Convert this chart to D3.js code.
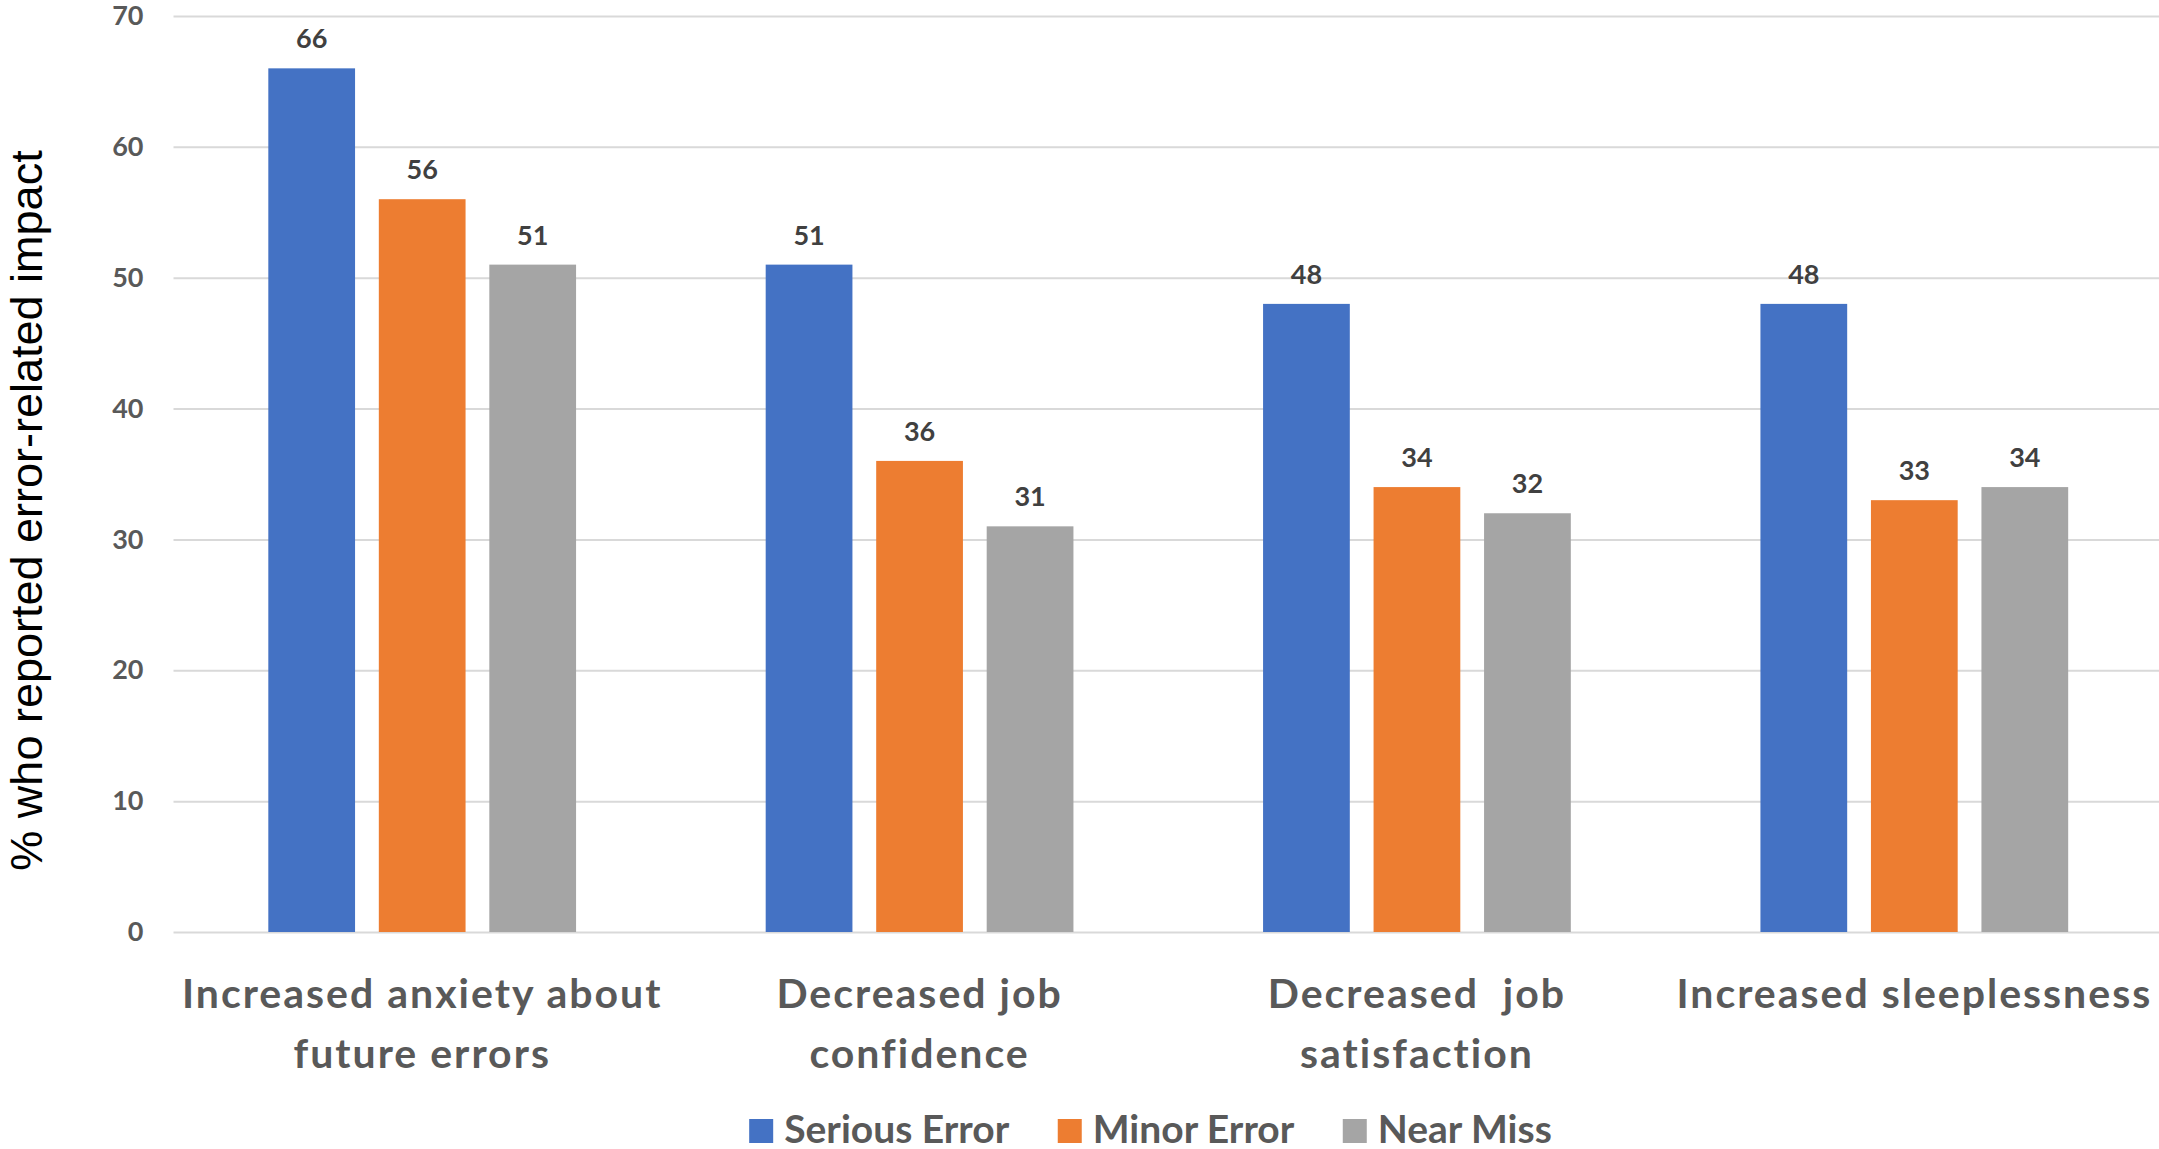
<!DOCTYPE html>
<html><head><meta charset="utf-8">
<script src="https://cdn.jsdelivr.net/npm/d3@7"></script>
<style>
html,body{margin:0;padding:0;background:#fff;}
svg{display:block;}
</style></head><body>
<svg id="chart" width="2159" height="1149"></svg>
<script>
const categories = ["Increased anxiety about\nfuture errors", "Decreased job\nconfidence", "Decreased  job\nsatisfaction", "Increased sleeplessness"];
const seriesNames = ["Serious Error", "Minor Error", "Near Miss"];
const seriousError = [66, 51, 48, 48];
const minorError = [56, 36, 34, 33];
const nearMiss = [51, 31, 32, 34];
const yTicks = [0, 10, 20, 30, 40, 50, 60, 70];
const yTitle = "% who reported error-related impact";

const seriesValues = [seriousError, minorError, nearMiss];
const colors = ["#4472C4", "#ED7D31", "#A5A5A5"];
const W = 2159, H = 1149;
const plotLeft = 173.5, plotRight = 2163, plotTop = 16, plotBottom = 932;
const svg = d3.select("#chart");
const catFont = "Lato, 'Noto Sans', sans-serif";

const x0 = d3.scaleBand().domain(categories).range([plotLeft, plotRight]).paddingInner(0).paddingOuter(0);
const x1 = d3.scaleBand().domain(seriesNames).range([0, x0.bandwidth()]).paddingInner(0.215).paddingOuter(0.858);
const y = d3.scaleLinear().domain([0, 70]).range([plotBottom, plotTop]);
const color = d3.scaleOrdinal().domain(seriesNames).range(colors);

// gridlines
const grid = svg.append("g").attr("transform", `translate(${plotLeft},0)`)
  .call(d3.axisLeft(y).tickValues(yTicks).tickSize(-(W - plotLeft)).tickFormat(""));
grid.select(".domain").remove();
grid.selectAll(".tick line").attr("stroke", "#D9D9D9").attr("stroke-width", 2);

// y tick labels
const yAx = svg.append("g").attr("transform", `translate(${plotLeft},0)`)
  .call(d3.axisLeft(y).tickValues(yTicks).tickSize(0).tickPadding(30));
yAx.select(".domain").remove();
yAx.selectAll(".tick text")
  .attr("fill", "#595959").attr("font-family", catFont).attr("font-weight", "bold").attr("font-size", 27);

// bars
const data = categories.map((c, i) => ({cat: c, vals: seriesNames.map((s, j) => ({s, v: seriesValues[j][i]}))}));
const groups = svg.append("g").selectAll("g").data(data).join("g")
  .attr("transform", d => `translate(${x0(d.cat)},0)`);
groups.selectAll("rect").data(d => d.vals).join("rect")
  .attr("x", d => x1(d.s)).attr("width", x1.bandwidth())
  .attr("y", d => y(d.v)).attr("height", d => y(0) - y(d.v))
  .attr("fill", d => color(d.s));
groups.selectAll("text").data(d => d.vals).join("text")
  .attr("x", d => x1(d.s) + x1.bandwidth() / 2)
  .attr("y", d => y(d.v) - 20)
  .attr("text-anchor", "middle")
  .attr("fill", "#404040").attr("font-family", catFont).attr("font-weight", "bold").attr("font-size", 27)
  .text(d => d.v);

// x axis labels
const xAx = svg.append("g").attr("transform", `translate(0,${plotBottom})`)
  .call(d3.axisBottom(x0).tickSize(0));
xAx.select(".domain").remove();
xAx.selectAll(".tick text").each(function(d) {
  const t = d3.select(this);
  t.text(null).attr("dy", null).attr("y", null)
    .attr("fill", "#595959").attr("font-family", catFont).attr("font-weight", "bold").attr("font-size", 41)
    .attr("letter-spacing", 2)
    .style("white-space", "pre");
  d.split("\n").forEach((line, k) => {
    t.append("tspan").attr("x", 0).attr("y", 76 + k * 60).text(line);
  });
});

// y title
svg.append("text")
  .attr("transform", `translate(42,${(147 + 874) / 2}) rotate(-90)`)
  .attr("text-anchor", "middle")
  .attr("font-family", "'Liberation Sans', Arial, sans-serif").attr("font-size", 45).attr("fill", "#000")
  .text(yTitle);

// legend
const legend = svg.append("g");
const items = legend.selectAll("g").data(seriesNames).join("g");
items.append("rect").attr("width", 24).attr("height", 24).attr("y", 1119).attr("fill", d => color(d));
items.append("text").attr("x", 35).attr("y", 1143)
  .attr("fill", "#595959").attr("font-family", catFont).attr("font-weight", "bold").attr("font-size", 39)
  .text(d => d);
let widths = [];
items.each(function() { widths.push(this.getBBox().width); });
const gap = 48;
const total = d3.sum(widths) + gap * (widths.length - 1);
let cx = 1150.5 - total / 2;
items.each(function(d, i) { d3.select(this).attr("transform", `translate(${cx},0)`); cx += widths[i] + gap; });
</script>
</body></html>
